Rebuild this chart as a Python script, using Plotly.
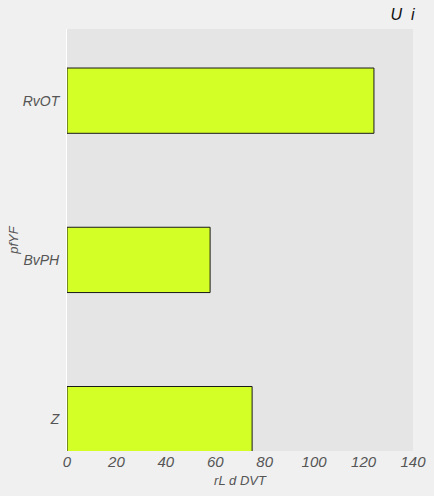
import plotly.graph_objects as go

categories = ["Z", "BvPH", "RvOT"]
values = [74.9, 57.9, 124.2]
x_ticks = [0, 20, 40, 60, 80, 100, 120, 140]

FONT = "Liberation Sans"

fig = go.Figure(go.Bar(
    x=values, y=categories, orientation="h", width=0.41,
    marker=dict(color="#d4ff26", line=dict(color="#1a1a1a", width=1)),
))

fig.update_layout(
    width=434, height=496,
    margin=dict(l=67, r=21, t=29, b=45),
    paper_bgcolor="#f0f0f0", plot_bgcolor="#e5e5e5",
    font=dict(family=FONT, color="#555555"),
    showlegend=False,
    title=dict(text="<i>U  i</i>", x=0.955, xanchor="right", y=0.982, yanchor="top",
               font=dict(family=FONT, size=16, color="#111111")),
    xaxis=dict(range=[0, 140], tickvals=x_ticks,
               ticktext=[f"<i>{v}</i>" for v in x_ticks],
               showgrid=False, zeroline=False, automargin=False,
               ticks="", tickfont=dict(size=15),
               title=dict(text="<i>rL d DVT</i>", font=dict(size=13), standoff=6),
               showline=False),
    yaxis=dict(range=[-0.2, 2.45], showgrid=False, zeroline=False, ticks="",
               automargin=False, ticklabelstandoff=4,
               ticktext=[f"<i>{c}</i>" for c in categories], tickvals=categories,
               tickfont=dict(size=14),
               title=dict(text="<i>pfYF</i>", font=dict(size=13), standoff=1),
               showline=True, linecolor="white", linewidth=1),
)

fig.write_html("out.html")
